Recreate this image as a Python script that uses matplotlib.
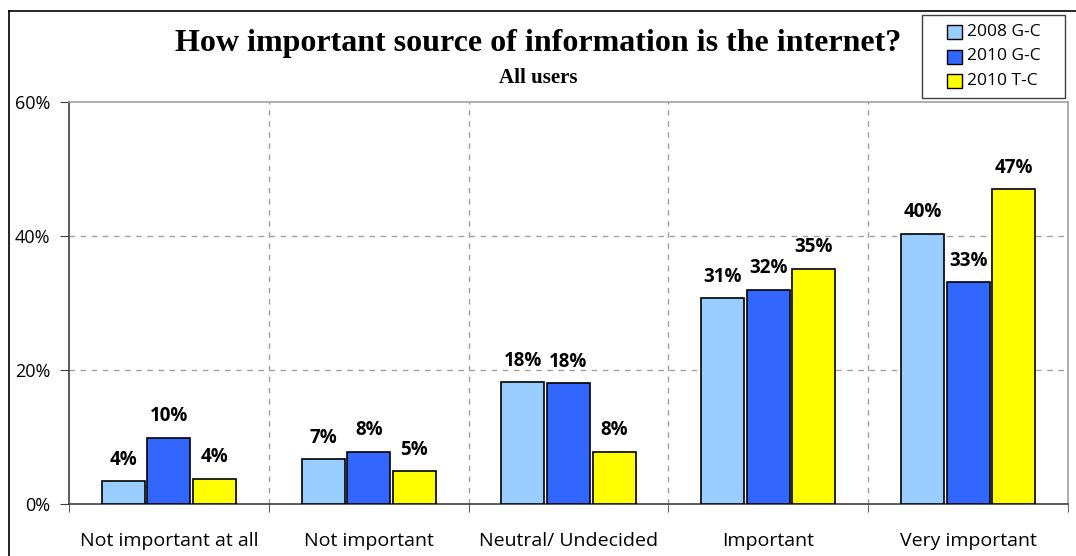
"""Bar chart: how important source of information is the internet (all users)."""

import matplotlib
matplotlib.use("Agg")
import matplotlib.pyplot as plt
from matplotlib.lines import Line2D
from matplotlib.patches import Rectangle
import numpy as np

categories = ["Not important at all", "Not important", "Neutral/ Undecided",
              "Important", "Very important"]
series_names = ["2008 G-C", "2010 G-C", "2010 T-C"]
values_2008_gc = [3.4, 6.7, 18.2, 30.7, 40.3]
values_2010_gc = [9.85, 7.8, 18.05, 32.0, 33.1]
values_2010_tc = [3.8, 4.9, 7.8, 35.1, 47.0]
labels_2008_gc = ["4%", "7%", "18%", "31%", "40%"]
labels_2010_gc = ["10%", "8%", "18%", "32%", "33%"]
labels_2010_tc = ["4%", "5%", "8%", "35%", "47%"]
y_ticks = [0, 20, 40, 60]
y_tick_labels = ["0%", "20%", "40%", "60%"]

COLOURS = ["#99CCFF", "#3366FF", "#FFFF00"]
SANS = "Open Sans"
SERIF = "Liberation Serif"
W, H = 1076, 556


def fx(px):
    return px / W


def fy(py):
    return 1 - py / H


fig = plt.figure(figsize=(W / 100, H / 100), dpi=100)
ax = fig.add_axes([fx(69), 52 / H, 999 / W, 402 / H])

x = np.arange(len(categories))
width = 0.215
offsets = [-0.228, 0.0, 0.228]
all_vals = [values_2008_gc, values_2010_gc, values_2010_tc]
all_labels = [labels_2008_gc, labels_2010_gc, labels_2010_tc]

for off, vals, labs, col, name in zip(offsets, all_vals, all_labels, COLOURS, series_names):
    ax.bar(x + off, vals, width, color=col, edgecolor="black", linewidth=1.2,
           label=name, zorder=3)
    for xi, v, lab in zip(x + off, vals, labs):
        ax.annotate(lab, (xi, v), xytext=(0, 15.5), textcoords="offset points",
                    ha="center", va="center", fontsize=13.5, fontweight="bold",
                    family=SANS)

ax.set_xlim(-0.5, len(categories) - 0.5)
ax.set_ylim(0, 60)
ax.set_yticks(y_ticks)
ax.set_yticklabels(y_tick_labels, family=SANS, fontsize=13)
ax.set_xticks(x)
ax.set_xticklabels(categories, family=SANS, fontsize=14)
ax.tick_params(axis="x", which="major", length=0, pad=20.5)
ax.set_xticks(np.arange(-0.5, len(categories)), minor=True)
ax.tick_params(axis="x", which="minor", length=6, direction="out", color="#404040")
ax.tick_params(axis="y", length=6.5, direction="out", color="#404040", pad=7)

for yv in [20, 40]:
    ax.axhline(yv, color="#A0A0A0", linestyle=(0, (4, 4)), linewidth=1, zorder=1)
for xv in np.arange(0.5, len(categories) - 0.5):
    ax.axvline(xv, color="#A0A0A0", linestyle=(0, (4, 4)), linewidth=1, zorder=1)

ax.spines["left"].set_color("#404040")
ax.spines["bottom"].set_color("#404040")
ax.spines["top"].set_color("#A0A0A0")
ax.spines["right"].set_color("#A0A0A0")
for s in ax.spines.values():
    s.set_linewidth(1.2)

# legend box drawn by hand to match the padded layout of the original
fig.add_artist(Rectangle((fx(922), fy(98)), fx(1065) - fx(922), fy(15) - fy(98),
                         transform=fig.transFigure, facecolor="white",
                         edgecolor="#404040", linewidth=1.0))
for i, (name, col) in enumerate(zip(series_names, COLOURS)):
    yc = 32 + i * 24.5
    fig.add_artist(Rectangle((fx(947), fy(yc + 7)), fx(962) - fx(947), 14 / H,
                             transform=fig.transFigure, facecolor=col,
                             edgecolor="black", linewidth=1.0))
    fig.text(fx(967), fy(yc), name, ha="left", va="center", fontsize=12.5,
             family=SANS)

fig.text(0.5, fy(44), "How important source of information is the internet?",
         ha="center", va="center", fontsize=23, fontweight="bold", family=SERIF)
fig.text(0.5, fy(78), "All users", ha="center", va="center",
         fontsize=15, fontweight="bold", family=SERIF)

# outer frame (left and top edges visible)
fig.add_artist(Line2D([fx(9), fx(9)], [0, fy(11)], color="black", lw=1.2))
fig.add_artist(Line2D([fx(9), 1], [fy(11), fy(11)], color="black", lw=1.2))

fig.savefig("out.png", dpi=100)
plt.close(fig)
